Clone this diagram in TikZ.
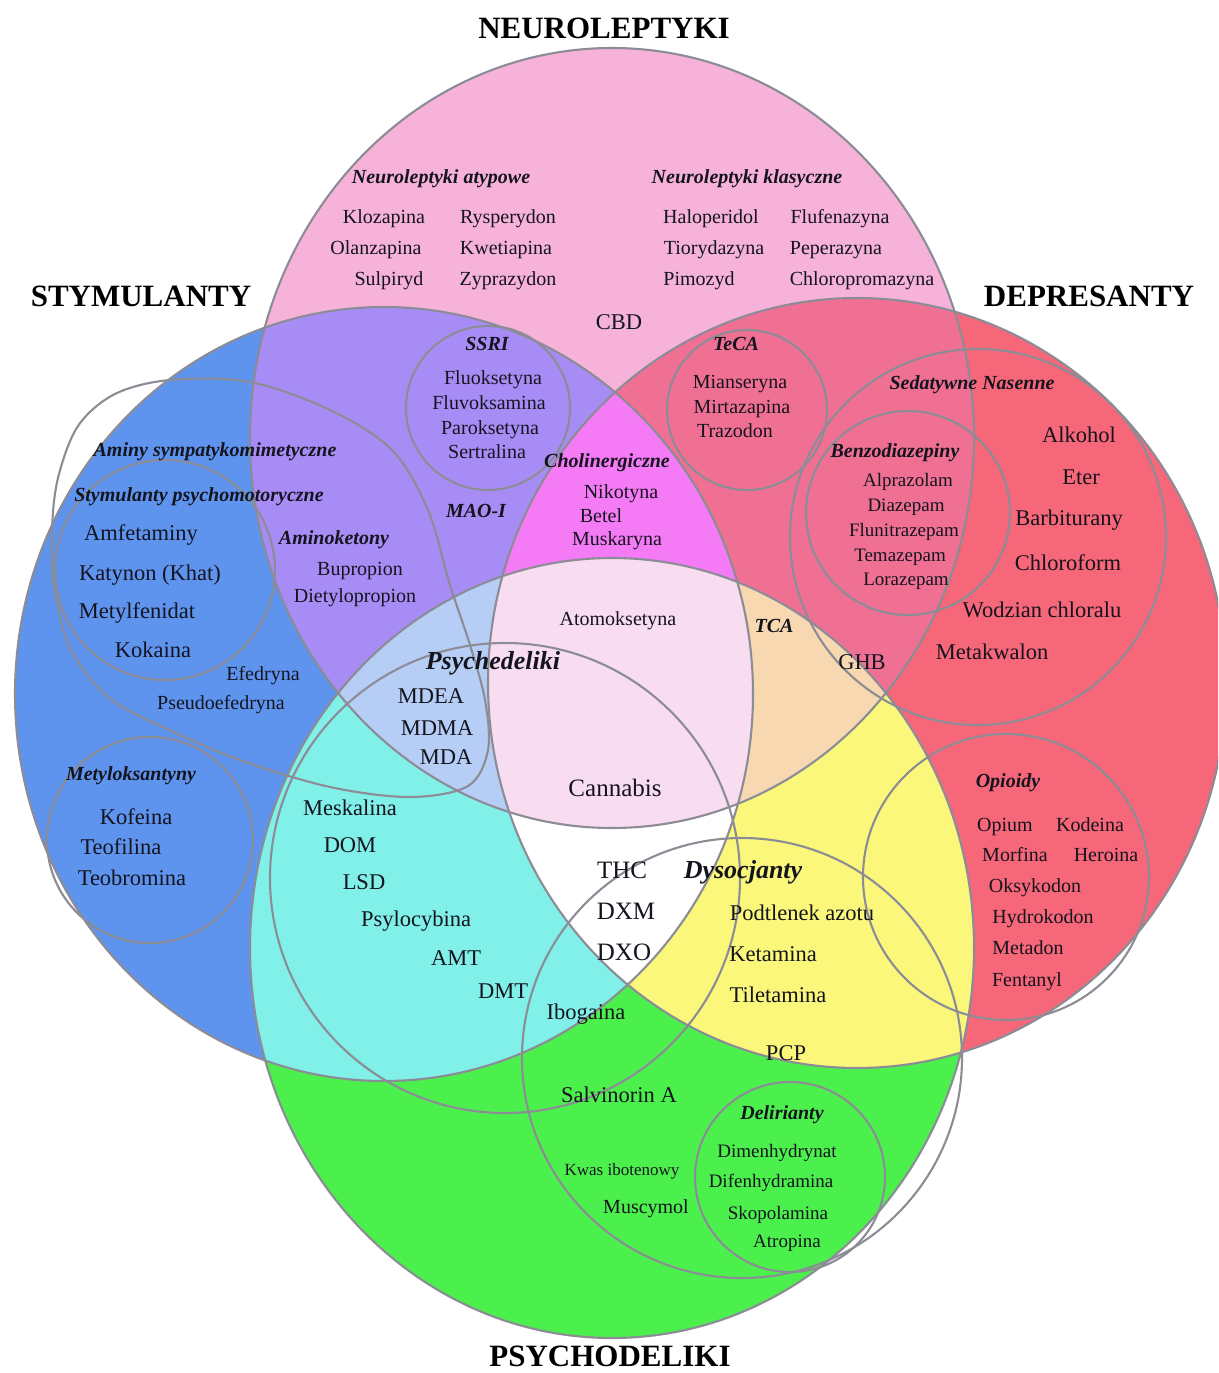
\documentclass[tikz,border=0pt]{standalone}
\usepackage{fontspec}
\setmainfont{Liberation Serif}
\newcommand{\myfs}[1]{\fontsize{#1}{#1}\selectfont}
\definecolor{cN}{RGB}{247,178,217}
\definecolor{cS}{RGB}{94,148,238}
\definecolor{cD}{RGB}{246,103,121}
\definecolor{cP}{RGB}{76,240,76}
\definecolor{cNS}{RGB}{168,140,245}
\definecolor{cND}{RGB}{240,112,148}
\definecolor{cSP}{RGB}{128,240,232}
\definecolor{cDP}{RGB}{250,247,122}
\definecolor{cNSD}{RGB}{245,122,245}
\definecolor{cNSP}{RGB}{182,206,245}
\definecolor{cNDP}{RGB}{248,216,176}
\definecolor{cSDP}{RGB}{255,255,255}
\definecolor{cALL}{RGB}{248,220,240}
\definecolor{cline}{RGB}{140,140,150}
\definecolor{ctext}{RGB}{20,20,30}
\begin{document}
\begin{tikzpicture}[x=1pt,y=-1pt,
  gl/.style={draw=cline,line width=2.1pt},
  sz/.style={inner sep=0pt,text=ctext,anchor=base,yshift={-0.33*#1pt},font=\myfs{#1}},
  t20/.style={sz=20},
  t19/.style={sz=19},
  t22/.style={sz=22.5},
  t25/.style={sz=25},
  t17/.style={sz=17},
  bi/.style={sz=20,font=\myfs{20}\bfseries\itshape},
  bibig/.style={sz=26,font=\myfs{26}\bfseries\itshape},
  ttl/.style={sz=31,text=black,font=\myfs{31}\bfseries}]
\useasboundingbox (0,0) rectangle (1218,1373);
\clip (0,0) rectangle (1218,1373);
\fill[white] (0,0) rectangle (1218,1373);
\def\pN{(612,438) ellipse [x radius=362, y radius=390]}
\def\pS{(384,694) ellipse [x radius=369, y radius=387]}
\def\pD{(857,683) ellipse [x radius=369, y radius=385]}
\def\pP{(612,948) ellipse [x radius=362, y radius=390]}
% base fills
\fill[cS] \pS;
\fill[cD] \pD;
\fill[cN] \pN;
\fill[cP] \pP;
% pairs
\begin{scope}\clip \pN; \fill[cNS] \pS; \end{scope}
\begin{scope}\clip \pN; \fill[cND] \pD; \end{scope}
\begin{scope}\clip \pS; \fill[cSP] \pP; \end{scope}
\begin{scope}\clip \pD; \fill[cDP] \pP; \end{scope}
% triples
\begin{scope}\clip \pN; \clip \pS; \fill[cNSD] \pD; \end{scope}
\begin{scope}\clip \pN; \clip \pS; \fill[cNSP] \pP; \end{scope}
\begin{scope}\clip \pN; \clip \pD; \fill[cNDP] \pP; \end{scope}
\begin{scope}\clip \pS; \clip \pD; \fill[cSDP] \pP; \end{scope}
% all four
\begin{scope}\clip \pN; \clip \pS; \clip \pD; \fill[cALL] \pP; \end{scope}
% outlines of main sets
\draw[gl] \pN; \draw[gl] \pS; \draw[gl] \pD; \draw[gl] \pP;
% sub-group outlines
\draw[gl] (488,408) circle [radius=82];   % SSRI
\draw[gl] (747,410) circle [radius=80];   % TeCA
\draw[gl] (978,537) circle [radius=188];  % Sedatywne
\draw[gl] (908,513) circle [radius=102];  % Benzodiazepiny
\draw[gl] (1006,877) circle [radius=143]; % Opioidy
\draw[gl] (165,570) circle [radius=110];  % Stymulanty psychomotoryczne
\draw[gl] (150,840) circle [radius=103];  % Metyloksantyny
\draw[gl] plot[smooth cycle,tension=0.55] coordinates {(78,426) (115,394) (170,380) (250,382) (330,410) (392,450) (428,510) (450,585) (470,645) (485,700) (488,750) (468,786) (410,797) (330,787) (240,760) (165,728) (108,697) (70,648) (54,585) (52,530) (58,478)}; % Aminy
\draw[gl] (505,878) circle [radius=235];  % Psychedeliki
\draw[gl] (742,1058) circle [radius=220]; % Dysocjanty
\draw[gl] (790,1177) circle [radius=95];  % Delirianty
% titles
\node[ttl] (tN) at (604,28) {NEUROLEPTYKI};
\node[ttl] (tS) at (141,296) {STYMULANTY};
\node[ttl] (tD) at (1089,296) {DEPRESANTY};
\node[ttl] (tP) at (610,1356) {PSYCHODELIKI};
% neuroleptyki
\node[bi] (nat) at (441,177) {Neuroleptyki atypowe};
\node[bi] (nkl) at (747,177) {Neuroleptyki klasyczne};
\node[t20] (klo) at (384,217) {Klozapina};
\node[t20] (rys) at (508,217) {Rysperydon};
\node[t20] (ola) at (376,248) {Olanzapina};
\node[t20] (kwe) at (506,248) {Kwetiapina};
\node[t20] (sul) at (389,279) {Sulpiryd};
\node[t20] (zyp) at (508,279) {Zyprazydon};
\node[t20] (hal) at (711,217) {Haloperidol};
\node[t20] (flu) at (840,217) {Flufenazyna};
\node[t20] (tio) at (714,248) {Tiorydazyna};
\node[t20] (pep) at (836,248) {Peperazyna};
\node[t20] (pim) at (699,279) {Pimozyd};
\node[t20] (chl) at (862,279) {Chloropromazyna};
\node[t22] (cbd) at (619,322) {CBD};
% SSRI
\node[bi] (ssri) at (487,344) {SSRI};
\node[t20] (fluo) at (493,378) {Fluoksetyna};
\node[t20] (fluv) at (489,403) {Fluvoksamina};
\node[t20] (par) at (490,428) {Paroksetyna};
\node[t20] (ser) at (487,452) {Sertralina};
% TeCA
\node[bi] (teca) at (736,344) {TeCA};
\node[t20] (mia) at (740,382) {Mianseryna};
\node[t20] (mir) at (742,407) {Mirtazapina};
\node[t20] (tra) at (735,431) {Trazodon};
% Cholinergiczne
\node[bi] (cho) at (607,461) {Cholinergiczne};
\node[t20] (nik) at (621,492) {Nikotyna};
\node[t20] (bet) at (601,516) {Betel};
\node[t20] (mus) at (617,539) {Muskaryna};
\node[bi] (mao) at (476,511) {MAO-I};
% Stymulanty
\node[bi] (ams) at (215,450) {Aminy sympatykomimetyczne};
\node[bi] (stp) at (199,495) {Stymulanty psychomotoryczne};
\node[t22] (amf) at (141,533) {Amfetaminy};
\node[t22] (kat) at (150,573) {Katynon (Khat)};
\node[t22] (met) at (137,611) {Metylfenidat};
\node[t22] (kok) at (153,650) {Kokaina};
\node[bi] (amk) at (334,538) {Aminoketony};
\node[t20] (bup) at (360,569) {Bupropion};
\node[t20] (die) at (355,596) {Dietylopropion};
\node[t20] (efe) at (263,674) {Efedryna};
\node[t20] (pse) at (221,703) {Pseudoefedryna};
\node[bi] (mety) at (131,774) {Metyloksantyny};
\node[t22] (kof) at (136,817) {Kofeina};
\node[t22] (teo) at (121,847) {Teofilina};
\node[t22] (teb) at (132,878) {Teobromina};
% center
\node[bibig] (psy) at (493,661) {Psychedeliki};
\node[t22] (mdea) at (431,696) {MDEA};
\node[t22] (mdma) at (437,728) {MDMA};
\node[t22] (mda) at (446,757) {MDA};
\node[t20] (ato) at (618,619) {Atomoksetyna};
\node[bi] (tca) at (774,626) {TCA};
\node[t22] (ghb) at (862,662) {GHB};
\node[t25] (can) at (615,788) {Cannabis};
% psychodeliki
\node[t22] (mes) at (350,808) {Meskalina};
\node[t22] (dom) at (350,845) {DOM};
\node[t22] (lsd) at (364,882) {LSD};
\node[t22] (psl) at (416,919) {Psylocybina};
\node[t22] (amt) at (456,958) {AMT};
\node[t22] (dmt) at (503,991) {DMT};
\node[t22] (ibo) at (586,1012) {Ibogaina};
\node[t25] (thc) at (622,870) {THC};
\node[t25] (dxm) at (626,911) {DXM};
\node[t25] (dxo) at (624,952) {DXO};
\node[bibig] (dys) at (743,870) {Dysocjanty};
\node[t22] (pod) at (802,913) {Podtlenek azotu};
\node[t22] (ket) at (773,954) {Ketamina};
\node[t22] (til) at (778,995) {Tiletamina};
\node[t22] (pcp) at (786,1053) {PCP};
\node[t22] (sal) at (619,1095) {Salvinorin A};
\node[t17] (kwa) at (622,1170) {Kwas ibotenowy};
\node[t20] (mcm) at (646,1207) {Muscymol};
\node[bi] (del) at (782,1113) {Delirianty};
\node[t19] (dim) at (777,1151) {Dimenhydrynat};
\node[t19] (dif) at (771,1181) {Difenhydramina};
\node[t19] (sko) at (778,1213) {Skopolamina};
\node[t19] (atr) at (787,1241) {Atropina};
% depresanty
\node[bi] (sed) at (972,383) {Sedatywne Nasenne};
\node[bi] (ben) at (895,451) {Benzodiazepiny};
\node[t19] (alp) at (908,480) {Alprazolam};
\node[t19] (dia) at (906,505) {Diazepam};
\node[t19] (fln) at (904,530) {Flunitrazepam};
\node[t19] (tem) at (900,555) {Temazepam};
\node[t19] (lor) at (906,579) {Lorazepam};
\node[t22] (alk) at (1079,435) {Alkohol};
\node[t22] (ete) at (1081,477) {Eter};
\node[t22] (bar) at (1069,518) {Barbiturany};
\node[t22] (chf) at (1068,563) {Chloroform};
\node[t22] (wod) at (1042,610) {Wodzian chloralu};
\node[t22] (mtk) at (992,652) {Metakwalon};
\node[bi] (opi) at (1008,781) {Opioidy};
\node[t20] (opm) at (1005,825) {Opium};
\node[t20] (kod) at (1090,825) {Kodeina};
\node[t20] (mor) at (1015,855) {Morfina};
\node[t20] (her) at (1106,855) {Heroina};
\node[t20] (oks) at (1035,886) {Oksykodon};
\node[t20] (hyd) at (1043,917) {Hydrokodon};
\node[t20] (mtd) at (1028,948) {Metadon};
\node[t20] (fen) at (1027,980) {Fentanyl};
\end{tikzpicture}
\end{document}
